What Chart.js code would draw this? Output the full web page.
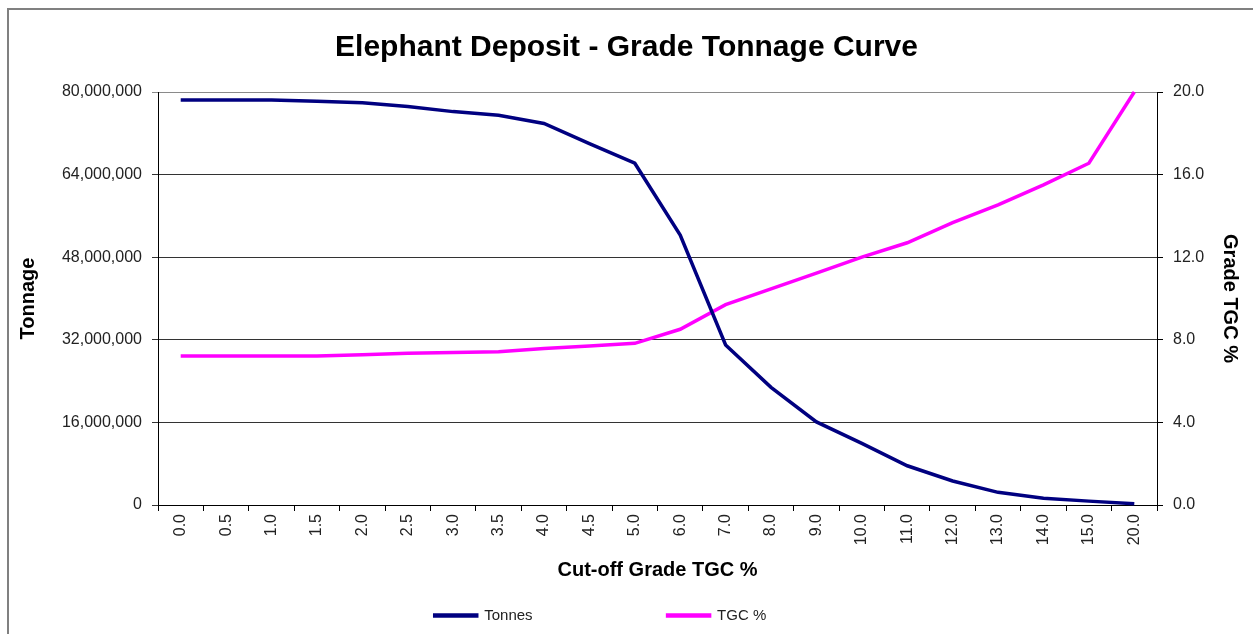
<!DOCTYPE html>
<html>
<head>
<meta charset="utf-8">
<title>Elephant Deposit - Grade Tonnage Curve</title>
<script src="https://cdn.jsdelivr.net/npm/chart.js@4/dist/chart.umd.min.js"></script>
<style>
    html, body { margin: 0; padding: 0; background: #fff; }
    #wrap { width: 1253px; height: 634px; }
</style>
</head>
<body>
<div id="wrap"><canvas id="grade-tonnage" width="1253" height="634"></canvas></div>
<script>
// Cut-off grades (x categories)
const cutoffGrades = ["0.0", "0.5", "1.0", "1.5", "2.0", "2.5", "3.0", "3.5", "4.0", "4.5",
    "5.0", "6.0", "7.0", "8.0", "9.0", "10.0", "11.0", "12.0", "13.0", "14.0", "15.0", "20.0"];

// Tonnes above cut-off (left axis)
const tonnes = [78450000, 78450000, 78450000, 78200000, 77900000, 77200000, 76200000, 75500000,
    73900000, 70000000, 66200000, 52300000, 31000000, 22800000, 16100000, 11950000,
    7600000, 4650000, 2450000, 1300000, 750000, 250000];

// Grade TGC % above cut-off (right axis)
const tgcGrade = [7.22, 7.22, 7.22, 7.22, 7.28, 7.35, 7.38, 7.42, 7.58, 7.70,
    7.83, 8.51, 9.70, 10.47, 11.23, 12.0, 12.70, 13.67, 14.53, 15.50, 16.55, 20.0];

// Axis ticks
const tonnageTicks = { min: 0, max: 80000000, step: 16000000 };
const gradeTicks = { min: 0, max: 20, step: 4 };

const fontFamily = "'Liberation Sans', Arial, sans-serif";
const textColor = "#222";
const tickFont = { family: fontFamily, size: 16 };
const titleFont = { family: fontFamily, size: 20, weight: "bold" };

// Bingkai kiri-atas seperti ekspor Excel + posisi legenda
const chartFrame = {
    id: "chartFrame",
    beforeDraw(chart) {
        const ctx = chart.ctx;
        ctx.save();
        ctx.fillStyle = "#fff";
        ctx.fillRect(0, 0, chart.width, chart.height);
        ctx.strokeStyle = "#808080";
        ctx.lineWidth = 2;
        ctx.beginPath();
        ctx.moveTo(8, chart.height);
        ctx.lineTo(8, 9);
        ctx.lineTo(chart.width, 9);
        ctx.stroke();
        ctx.restore();
    },
    afterLayout(chart) {
        // legenda digeser ke bawah tengah, jarak antar item lebar
        const lg = chart.legend;
        lg.top = 608 - lg.options.labels.padding;
        lg.bottom = chart.height;
        lg.left -= 26;
        lg.right -= 26;
    },
};

function initializeChart() {
    const canvas = document.getElementById("grade-tonnage");

    const config = {
        type: "line",
        data: {
            labels: cutoffGrades,
            datasets: [
                {
                    label: "Tonnes",
                    data: tonnes,
                    yAxisID: "y",
                    borderColor: "#000080",
                    backgroundColor: "#000080",
                    borderWidth: 3.5,
                    pointRadius: 0,
                    tension: 0,
                    clip: false,
                },
                {
                    label: "TGC %",
                    data: tgcGrade,
                    yAxisID: "y1",
                    borderColor: "#ff00ff",
                    backgroundColor: "#ff00ff",
                    borderWidth: 3.5,
                    pointRadius: 0,
                    tension: 0,
                    clip: false,
                },
            ],
        },
        options: {
            responsive: false,
            animation: false,
            devicePixelRatio: 1,
            layout: { padding: 0 },
            plugins: {
                title: {
                    display: true,
                    text: "Elephant Deposit - Grade Tonnage Curve",
                    color: "#000",
                    font: { family: fontFamily, size: 30, weight: "bold" },
                    padding: { top: 30, bottom: 26 },
                },
                legend: {
                    position: "bottom",
                    maxHeight: 49,
                    labels: {
                        color: textColor,
                        font: { family: fontFamily, size: 15 },
                        boxWidth: 42,
                        boxHeight: 1,
                        padding: 135,
                    },
                },
                tooltip: { enabled: false },
            },
            scales: {
                x: {
                    offset: true,
                    afterFit: (scale) => { scale.height = 80; },
                    grid: {
                        offset: true,
                        drawOnChartArea: false,
                        drawTicks: true,
                        tickLength: 6,
                        color: "#000",
                    },
                    border: { display: true, color: "#000", width: 1 },
                    ticks: {
                        autoSkip: false,
                        minRotation: 90,
                        maxRotation: 90,
                        padding: 3,
                        color: textColor,
                        font: { family: fontFamily, size: 16 },
                    },
                    title: {
                        display: true,
                        text: "Cut-off Grade TGC %",
                        color: "#000",
                        font: titleFont,
                        padding: { top: 0, bottom: 3 },
                    },
                },
                y: {
                    position: "left",
                    min: tonnageTicks.min,
                    max: tonnageTicks.max,
                    afterFit: (scale) => { scale.width = 158; },
                    grid: {
                        color: (ctx) => (ctx.tick && ctx.tick.value === tonnageTicks.max ? "#8a8a8a" : "#333"),
                        lineWidth: 1,
                        tickLength: 6,
                    },
                    border: { display: true, color: "#000", width: 1 },
                    ticks: {
                        stepSize: tonnageTicks.step,
                        padding: 10,
                        color: textColor,
                        font: tickFont,
                        callback: (val) => val.toLocaleString("en-US"),
                    },
                    title: {
                        display: true,
                        text: "Tonnage",
                        color: "#000",
                        font: titleFont,
                        padding: { top: 16, bottom: 0 },
                    },
                },
                y1: {
                    position: "right",
                    min: gradeTicks.min,
                    max: gradeTicks.max,
                    afterFit: (scale) => { scale.width = 96; },
                    grid: {
                        drawOnChartArea: false,
                        tickLength: 6,
                        color: "#000",
                    },
                    border: { display: true, color: "#000", width: 1 },
                    ticks: {
                        stepSize: gradeTicks.step,
                        padding: 10,
                        color: textColor,
                        font: tickFont,
                        callback: (val) => val.toFixed(1),
                    },
                    title: {
                        display: true,
                        text: "Grade TGC %",
                        color: "#000",
                        font: titleFont,
                        padding: { top: 11, bottom: 0 },
                    },
                },
            },
        },
        plugins: [chartFrame],
    };

    canvas.chart = new Chart(canvas, config);
}

document.addEventListener("DOMContentLoaded", initializeChart);
</script>
</body>
</html>
